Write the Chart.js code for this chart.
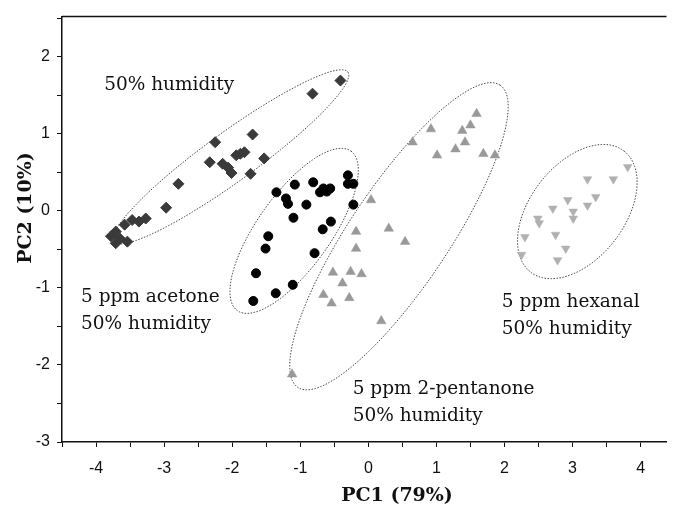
<!DOCTYPE html>
<html>
<head>
<meta charset="utf-8">
<script src="https://cdn.jsdelivr.net/npm/chart.js@4.4.1/dist/chart.umd.min.js"></script>
<style>
  html, body { margin: 0; padding: 0; background: #fff; overflow: hidden; }
</style>
</head>
<body>
<canvas id="pca" width="673" height="510"></canvas>
<script>
// PC1 / PC2 scores, one list per exposure
let humidityPts = [
  {x: -0.41, y: 1.69}, {x: -0.82, y: 1.52}, {x: -1.70, y: 0.99}, {x: -2.25, y: 0.89},
  {x: -1.88, y: 0.74}, {x: -1.94, y: 0.72}, {x: -1.82, y: 0.76}, {x: -1.53, y: 0.68},
  {x: -2.33, y: 0.63}, {x: -2.14, y: 0.61}, {x: -2.06, y: 0.56}, {x: -2.01, y: 0.49},
  {x: -1.73, y: 0.48}, {x: -2.79, y: 0.35}, {x: -2.97, y: 0.04}, {x: -3.47, y: -0.12},
  {x: -3.37, y: -0.14}, {x: -3.27, y: -0.10}, {x: -3.71, y: -0.27}, {x: -3.65, y: -0.36},
  {x: -3.54, y: -0.40}, {x: -3.71, y: -0.42}, {x: -3.58, y: -0.18}, {x: -3.78, y: -0.33}
];
let acetonePts = [
  {x: -0.30, y: 0.46}, {x: -0.30, y: 0.35}, {x: -0.22, y: 0.35}, {x: -1.08, y: 0.34},
  {x: -0.81, y: 0.37}, {x: -0.66, y: 0.29}, {x: -0.61, y: 0.25}, {x: -0.71, y: 0.24},
  {x: -0.56, y: 0.29}, {x: -1.35, y: 0.24}, {x: -1.21, y: 0.16}, {x: -1.18, y: 0.09},
  {x: -0.91, y: 0.08}, {x: -0.22, y: 0.08}, {x: -1.10, y: -0.09}, {x: -0.55, y: -0.14},
  {x: -0.67, y: -0.24}, {x: -1.47, y: -0.33}, {x: -1.51, y: -0.49}, {x: -0.79, y: -0.55},
  {x: -1.65, y: -0.81}, {x: -1.11, y: -0.96}, {x: -1.36, y: -1.07}, {x: -1.69, y: -1.17}
];
let pentanonePts = [
  {x: 1.59, y: 1.26}, {x: 1.50, y: 1.11}, {x: 1.38, y: 1.04}, {x: 0.92, y: 1.06},
  {x: 0.65, y: 0.89}, {x: 1.42, y: 0.89}, {x: 1.28, y: 0.80}, {x: 1.01, y: 0.72},
  {x: 1.69, y: 0.74}, {x: 1.86, y: 0.72}, {x: 0.04, y: 0.14}, {x: -0.18, y: -0.27},
  {x: 0.30, y: -0.23}, {x: 0.54, y: -0.40}, {x: -0.18, y: -0.49}, {x: -0.52, y: -0.80},
  {x: -0.26, y: -0.79}, {x: -0.10, y: -0.82}, {x: -0.38, y: -0.94}, {x: -0.66, y: -1.09},
  {x: -0.54, y: -1.20}, {x: -0.28, y: -1.13}, {x: 0.19, y: -1.43}, {x: -1.12, y: -2.12}
];
let hexanalPts = [
  {x: 3.81, y: 0.57}, {x: 3.60, y: 0.41}, {x: 3.22, y: 0.41}, {x: 3.34, y: 0.18},
  {x: 3.22, y: 0.07}, {x: 2.93, y: 0.14}, {x: 2.71, y: 0.03}, {x: 3.01, y: -0.01},
  {x: 3.01, y: -0.10}, {x: 2.49, y: -0.10}, {x: 2.51, y: -0.16}, {x: 2.75, y: -0.31},
  {x: 2.30, y: -0.34}, {x: 2.90, y: -0.49}, {x: 2.25, y: -0.57}, {x: 2.78, y: -0.64}
];

let xTicks = [-4.5, -4, -3.5, -3, -2.5, -2, -1.5, -1, -0.5, 0, 0.5, 1, 1.5, 2, 2.5, 3, 3.5, 4];
let yTicks = [-3, -2.5, -2, -1.5, -1, -0.5, 0, 0.5, 1, 1.5, 2, 2.5];

// confidence ellipses: centre plus the two half-axis vectors, in PC units
let ellipses = [
  {cx: -2.02, cy: 0.70, ax: 1.72, ay: 1.10, bx: 0.21, by: -0.26},
  {cx: -1.09, cy: -0.26, ax: 0.836, ay: 1.034, bx: 0.436, by: -0.279},
  {cx: 0.45, cy: -0.33, ax: 1.487, ay: 1.960, bx: 0.603, by: -0.361},
  {cx: 3.07, cy: -0.01, ax: 0.689, ay: 0.784, bx: 0.545, by: -0.379}
];

let notes = [
  {lines: ['50% humidity'], x: -3.88, y: 1.57},
  {lines: ['5 ppm acetone', '50% humidity'], x: -4.22, y: -1.18},
  {lines: ['5 ppm hexanal', '50% humidity'], x: 1.96, y: -1.25},
  {lines: ['5 ppm 2-pentanone', '50% humidity'], x: -0.23, y: -2.38}
];

const overlay = {
  id: 'overlay',
  beforeDatasetsDraw(chart) {
    const ctx = chart.ctx, sx = chart.scales.x, sy = chart.scales.y;
    ctx.save();
    ctx.strokeStyle = '#444';
    ctx.lineWidth = 1;
    ctx.setLineDash([1.5, 1.5]);
    ellipses.forEach(e => {
      ctx.beginPath();
      for (let i = 0; i <= 180; i++) {
        let t = i / 180 * Math.PI * 2;
        let px = sx.getPixelForValue(e.cx + e.ax * Math.cos(t) + e.bx * Math.sin(t));
        let py = sy.getPixelForValue(e.cy + e.ay * Math.cos(t) + e.by * Math.sin(t));
        if (i === 0) ctx.moveTo(px, py); else ctx.lineTo(px, py);
      }
      ctx.stroke();
    });
    ctx.restore();
  },
  afterDraw(chart) {
    const ctx = chart.ctx, a = chart.chartArea, sx = chart.scales.x, sy = chart.scales.y;
    ctx.save();
    // top frame
    ctx.strokeStyle = '#111';
    ctx.lineWidth = 1.5;
    ctx.beginPath();
    ctx.moveTo(a.left, a.top);
    ctx.lineTo(a.right, a.top);
    ctx.stroke();

    ctx.fillStyle = '#111';
    ctx.font = '18.5px "DejaVu Serif"';
    ctx.textBaseline = 'alphabetic';
    notes.forEach(n => {
      let px = sx.getPixelForValue(n.x), py = sy.getPixelForValue(n.y);
      n.lines.forEach((l, i) => ctx.fillText(l, px, py + i * 27));
    });

    ctx.font = 'bold 19px "DejaVu Serif"';
    ctx.textAlign = 'center';
    ctx.fillText('PC1 (79%)', 397, 501);
    ctx.translate(31, 208);
    ctx.rotate(-Math.PI / 2);
    ctx.fillText('PC2 (10%)', 0, 0);
    ctx.restore();
  }
};

function intLabel(v) {
  return Number.isInteger(v) ? String(v) : '';
}

new Chart(document.getElementById('pca'), {
  type: 'scatter',
  data: {
    datasets: [
      {data: humidityPts, pointStyle: 'rectRot', pointRadius: 5.5, backgroundColor: '#3a3a3a', borderColor: '#3a3a3a', borderWidth: 1},
      {data: acetonePts, pointStyle: 'circle', pointRadius: 4.5, backgroundColor: '#000', borderColor: '#000', borderWidth: 1},
      {data: pentanonePts, pointStyle: 'triangle', pointRadius: 5.5, backgroundColor: '#999', borderColor: '#999', borderWidth: 0.5},
      {data: hexanalPts, pointStyle: 'triangle', rotation: 180, pointRadius: 5, backgroundColor: '#b0b0b0', borderColor: '#b0b0b0', borderWidth: 0.5}
    ]
  },
  options: {
    responsive: false,
    animation: false,
    layout: { padding: {top: 15, right: 0, left: 0, bottom: 0} },
    plugins: { legend: { display: false }, tooltip: { enabled: false } },
    scales: {
      x: {
        min: -4.5, max: 4.38,
        afterBuildTicks: s => { s.ticks = xTicks.map(v => ({value: v})); },
        afterFit: s => { s.height = 68; },
        grid: { drawOnChartArea: false, drawTicks: true, tickLength: 5, tickColor: '#111', tickWidth: 1 },
        border: { display: true, color: '#111', width: 1.5 },
        ticks: { callback: intLabel, color: '#111', padding: 12, maxRotation: 0, autoSkip: false,
                 font: { family: '"Liberation Sans", Arial', size: 16 } }
      },
      y: {
        min: -3, max: 2.52,
        afterBuildTicks: s => { s.ticks = yTicks.map(v => ({value: v})); },
        afterFit: s => { s.width = 62; },
        grid: { drawOnChartArea: false, drawTicks: true, tickLength: 5, tickColor: '#111', tickWidth: 1 },
        border: { display: true, color: '#111', width: 1.5 },
        ticks: { callback: intLabel, color: '#111', padding: 7, autoSkip: false,
                 font: { family: '"Liberation Sans", Arial', size: 16 } }
      }
    }
  },
  plugins: [overlay]
});
</script>
</body>
</html>
